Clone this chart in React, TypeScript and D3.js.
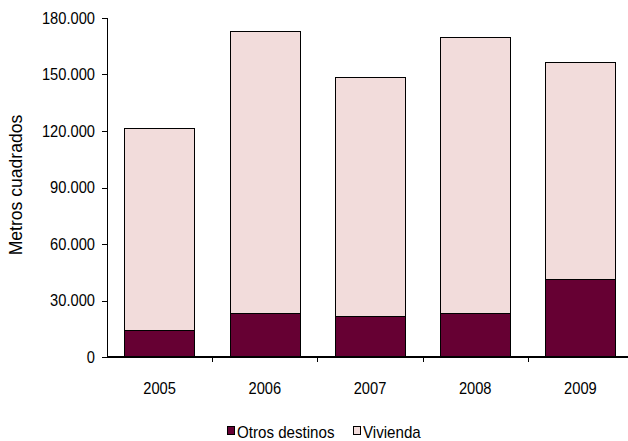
import React from "react";
import * as d3 from "d3";

const years = ["2005", "2006", "2007", "2008", "2009"];
const otrosDestinos = [14300, 23400, 21800, 23400, 41400];
const vivienda = [107400, 149600, 126900, 146500, 115200];
const yTicks = [0, 30000, 60000, 90000, 120000, 150000, 180000];
const seriesNames = ["Otros destinos", "Vivienda"];
const seriesColors = ["#660033", "#F2DCDB"];

const W = 628;
const H = 441;
const FONT = "'Liberation Sans', Arial, sans-serif";
const SX = 0.89;

function CText({ x, y, anchor = "start", size = 16.5, children, dy }: any) {
  return (
    <text
      transform={`translate(${x},${y}) scale(${SX},1)`}
      textAnchor={anchor}
      fontSize={size}
      dy={dy}
      fill="#000"
    >
      {children}
    </text>
  );
}

export default function App() {
  const x = d3
    .scaleBand<string>()
    .domain(years)
    .range([107, 633])
    .paddingInner(0.33)
    .paddingOuter(0.165);
  const y = d3.scaleLinear().domain([0, 180000]).range([357, 18]);
  const fmt = d3
    .formatLocale({ thousands: ".", decimal: ",", grouping: [3], currency: ["", ""] })
    .format(",");

  const rows = years.map((yr, i) => ({ year: yr, otros: otrosDestinos[i], viv: vivienda[i] }));
  const stack = d3.stack<any>().keys(["otros", "viv"])(rows);

  const step = x.step();
  const boundaries = years.map((_, i) => 107 + step * (i + 1));

  return (
    <svg width={W} height={H} style={{ position: "absolute", left: 0, top: 0 }} fontFamily={FONT}>
      <rect x={0} y={0} width={W} height={H} fill="#fff" />
      {/* bars */}
      {stack.map((s, si) =>
        s.map((d, i) => (
          <rect
            key={`${si}-${i}`}
            x={Math.round(x(years[i])!) + 0.5}
            y={Math.round(y(d[1])) + 0.5}
            width={Math.round(x.bandwidth())}
            height={Math.round(y(d[0])) - Math.round(y(d[1]))}
            fill={seriesColors[si]}
            stroke="#000"
            strokeWidth={1}
          />
        ))
      )}
      {/* y axis */}
      <line x1={107.5} x2={107.5} y1={y(180000)} y2={y(0)} stroke="#000" strokeWidth={1} />
      {yTicks.map((t) => (
        <g key={t}>
          <line x1={102} x2={107} y1={Math.round(y(t)) + 0.5} y2={Math.round(y(t)) + 0.5} stroke="#000" />
          <CText x={95} y={y(t)} dy="0.36em" anchor="end">
            {fmt(t)}
          </CText>
        </g>
      ))}
      {/* x axis */}
      <line x1={107} x2={W} y1={357} y2={357} stroke="#000" strokeWidth={2} />
      {boundaries.map((b, i) => (
        <line key={i} x1={Math.round(b) + 0.5} x2={Math.round(b) + 0.5} y1={357} y2={362} stroke="#000" />
      ))}
      {years.map((yr) => (
        <CText key={yr} x={x(yr)! + x.bandwidth() / 2} y={394} anchor="middle">
          {yr}
        </CText>
      ))}
      {/* y title */}
      <text
        transform={`translate(22,185) rotate(-90) scale(0.95,1)`}
        textAnchor="middle"
        fontSize={18.5}
        fill="#000"
      >
        Metros cuadrados
      </text>
      {/* legend */}
      {seriesNames.map((n, i) => {
        const lx = i === 0 ? 227 : 353;
        return (
          <g key={n}>
            <rect x={lx + 0.5} y={426.5} width={7} height={8} fill={seriesColors[i]} stroke="#000" />
            <CText x={lx + 10} y={437.5} size={17}>
              {n}
            </CText>
          </g>
        );
      })}
    </svg>
  );
}
